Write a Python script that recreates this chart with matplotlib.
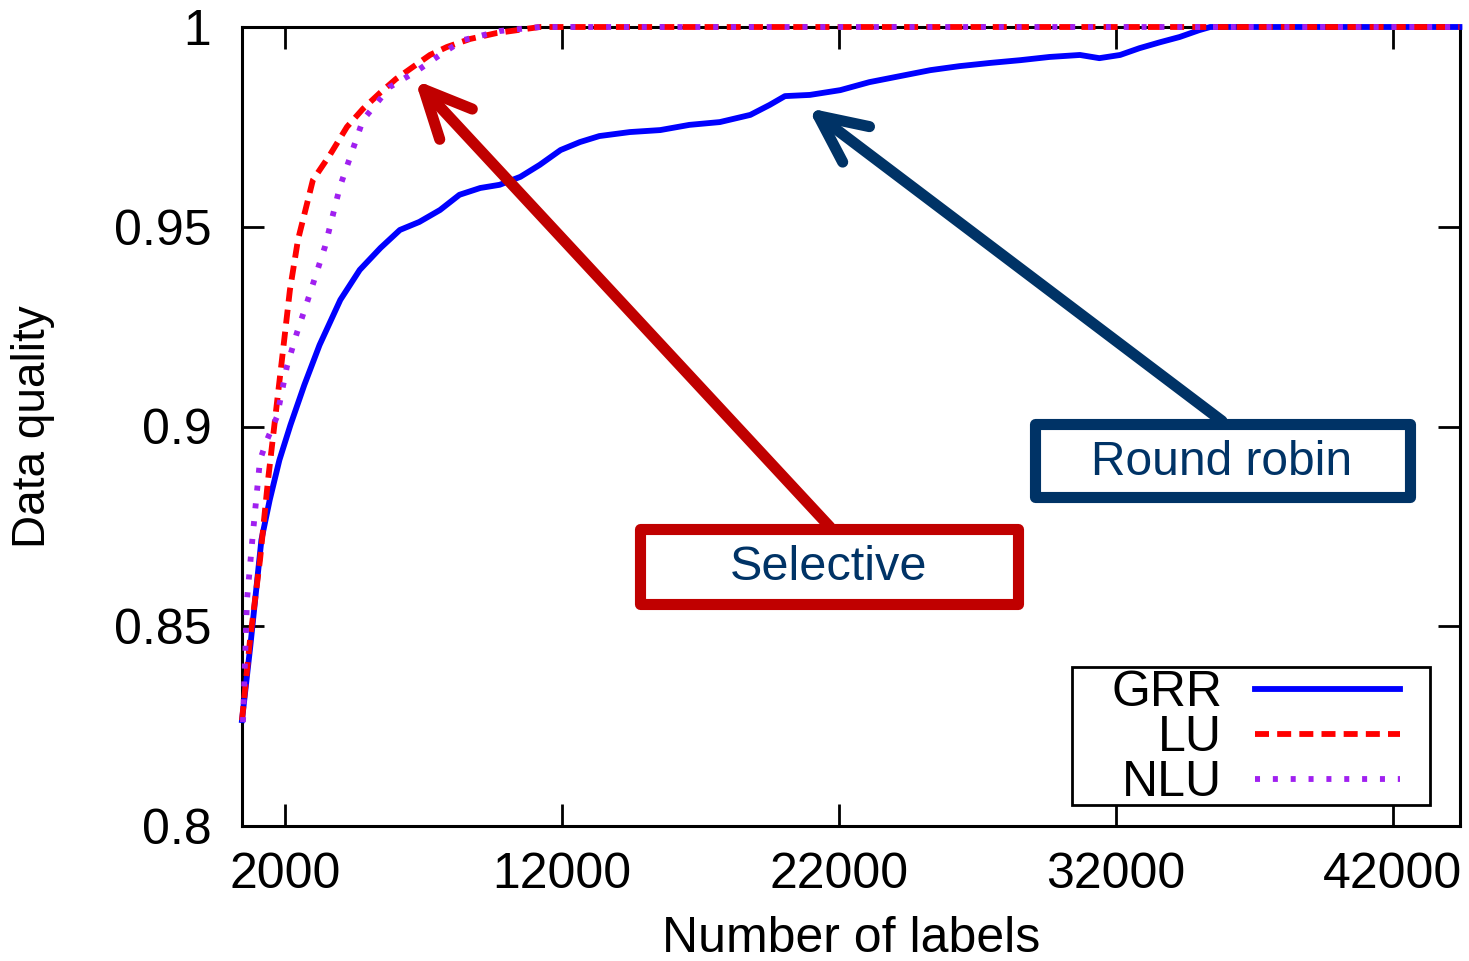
import matplotlib
matplotlib.use("Agg")
import matplotlib.pyplot as plt
from matplotlib.patches import FancyArrowPatch, Rectangle

plt.rcParams['font.family'] = ['Liberation Sans', 'DejaVu Sans']

# ---- data ----
grr_x = [450, 750, 1150, 1450, 1800, 2200, 2700, 3250, 4000, 4700, 5450, 6150, 6850,
         7600, 8300, 9050, 9750, 10500, 11200, 11950, 12650, 13350, 14450, 15550, 16600,
         17700, 18800, 19500, 20050, 20950, 22050, 23100, 24200, 25300, 26350, 27450,
         28550, 29600, 30700, 31400, 32150, 32850, 33600, 34300, 35000, 35400, 44400]
grr_y = [0.8265, 0.845, 0.8716, 0.8816, 0.8916, 0.9004, 0.9104, 0.9204, 0.9317, 0.9392,
         0.9447, 0.9492, 0.9512, 0.9542, 0.958, 0.9597, 0.9605, 0.9625, 0.9655, 0.9692,
         0.9712, 0.9727, 0.9737, 0.9742, 0.9755, 0.9762, 0.978, 0.9805, 0.9827, 0.983,
         0.9842, 0.9862, 0.9877, 0.9892, 0.9902, 0.991, 0.9917, 0.9925, 0.993, 0.9922,
         0.993, 0.9947, 0.9962, 0.9975, 0.9992, 1.0, 1.0]

lu_x = [450, 740, 1100, 1390, 1640, 1890, 2180, 2470, 3010, 3625, 4240, 4815, 5430,
        6010, 6620, 7235, 7850, 8680, 9650, 11200, 44400]
lu_y = [0.8265, 0.8466, 0.8666, 0.8866, 0.9016, 0.9166, 0.9342, 0.9467, 0.9617, 0.968,
        0.975, 0.9795, 0.9835, 0.987, 0.99, 0.993, 0.995, 0.997, 0.9985, 1.0, 1.0]

nlu_x = [485, 630, 845, 1100, 1350, 1710, 2070, 2430, 2795, 3445, 3985, 4815, 5790,
         6765, 7595, 8425, 9760, 11200, 44400]
nlu_y = [0.826, 0.8566, 0.8733, 0.8916, 0.8966, 0.9024, 0.915, 0.9234, 0.931, 0.945,
         0.960, 0.9767, 0.985, 0.989, 0.993, 0.9967, 0.999, 1.0, 1.0]

x_ticks = [2000, 12000, 22000, 32000, 42000]
y_ticks = [0.8, 0.85, 0.9, 0.95, 1.0]
y_tick_labels = ["0.8", "0.85", "0.9", "0.95", "1"]

FS = 36

fig = plt.figure(figsize=(14.69, 9.61), dpi=100)
ax = fig.add_axes([242/1469, 1-826/961, 1218/1469, 799/961])

def fx(px):
    return (px - 242) / 1218

def fy(py):
    return (826 - py) / 799

LW = 4.2
ax.plot(grr_x, grr_y, color='#0000FF', lw=LW, label='GRR', clip_on=False, zorder=3)
ax.plot(lu_x, lu_y, color='#FF0000', lw=LW, ls=(0, (2.4, 1.4)), dash_capstyle='butt',
        label='LU', clip_on=False, zorder=3)
ax.plot(nlu_x, nlu_y, color='#A020F0', lw=LW, ls=(0, (0.86, 2.2)), dash_capstyle='butt',
        label='NLU', clip_on=False, zorder=3)

ax.set_xlim(450, 44420)
ax.set_ylim(0.8, 1.0)
ax.set_xticks(x_ticks)
ax.set_yticks(y_ticks)
ax.set_yticklabels(y_tick_labels)
ax.tick_params(direction='in', length=15.5, width=2, top=True, right=True,
               labelsize=FS, color='black')
ax.tick_params(axis='y', pad=22)
ax.tick_params(axis='x', pad=19)
for sp in ax.spines.values():
    sp.set_linewidth(2.2)

ax.set_xlabel('Number of labels', fontsize=FS, labelpad=13)
ax.set_ylabel('Data quality', fontsize=33, labelpad=42)

# legend: entries without frame, plus a separate frame rectangle
leg = ax.legend(loc='lower right', bbox_to_anchor=(fx(1400), fy(806)), borderaxespad=0,
                markerfirst=False, fontsize=FS, handlelength=2.9, handletextpad=0.66,
                labelspacing=-0.02, borderpad=0, frameon=False)
leg.set_zorder(5)
ax.add_patch(Rectangle((fx(1072), fy(805)), fx(1430) - fx(1072), fy(667) - fy(805),
                       transform=ax.transAxes, facecolor='white', edgecolor='black',
                       lw=2, clip_on=False, zorder=4))

# ---- annotations ----
RED = '#C00000'
NAVY = '#003366'

def box(x0, y0, x1, y1, color):
    r = Rectangle((x0, y0), x1 - x0, y1 - y0, transform=ax.transAxes, facecolor='white',
                  edgecolor=color, lw=8, joinstyle='round', clip_on=False, zorder=6)
    ax.add_patch(r)

def arrow(a, b, color):
    p = FancyArrowPatch(a, b, transform=ax.transAxes,
                        arrowstyle='->,head_length=3.4,head_width=1.6', mutation_scale=10,
                        color=color, lw=8, capstyle='round', joinstyle='round',
                        shrinkA=0, shrinkB=0, clip_on=False, zorder=6)
    ax.add_patch(p)

arrow((fx(830), fy(527)), (fx(415), fy(80)), RED)
box(fx(640), fy(604), fx(1018), fy(529), RED)
ax.text(fx(829), fy(568), 'Selective', transform=ax.transAxes, ha='center', va='center',
        fontsize=35, color=NAVY, zorder=7)

arrow((fx(1222), fy(421)), (fx(808), fy(108)), NAVY)
box(fx(1035), fy(497), fx(1410), fy(424), NAVY)
ax.text(fx(1222), fy(463), 'Round robin', transform=ax.transAxes, ha='center', va='center',
        fontsize=34.5, color=NAVY, zorder=7)

fig.savefig('out.png', dpi=100)
